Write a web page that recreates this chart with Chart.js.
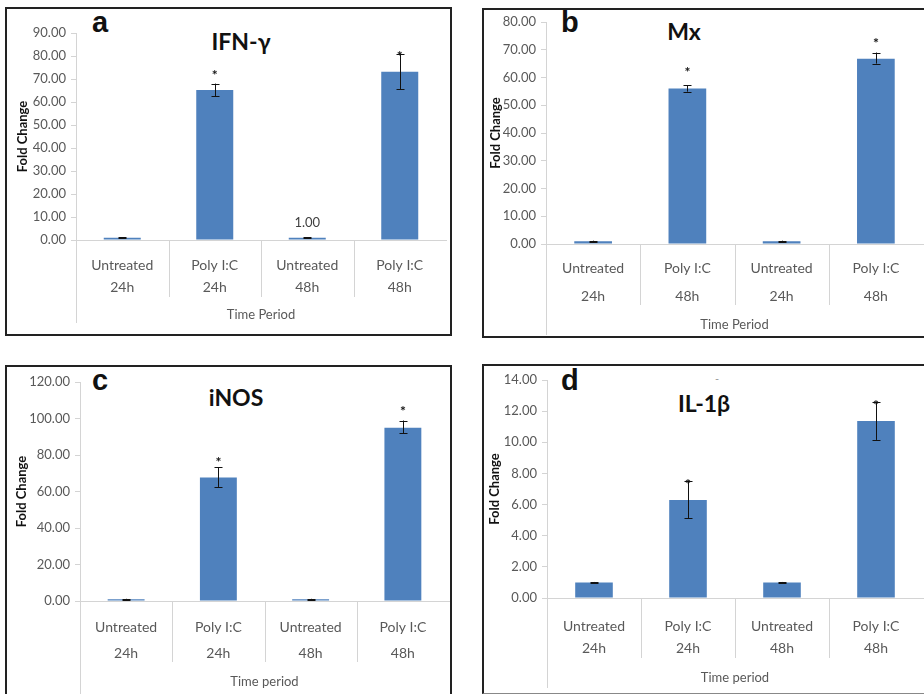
<!DOCTYPE html>
<html lang="en">
  <head>
    <meta charset="utf-8">
    <script src="https://cdn.jsdelivr.net/npm/chart.js"></script>
    <title>Fold change panels</title>
    <style>
      body { margin: 0; background: #fff; width: 924px; height: 694px; position: relative; overflow: hidden; }
      canvas { position: absolute; }
      .frame { position: absolute; box-sizing: border-box; border: 2px solid #222; pointer-events: none; }
      .letter { position: absolute; font: bold 29px "Liberation Sans", Arial, sans-serif; line-height: 1; color: #111; }
      .gene { position: absolute; font: bold 23px Lato, sans-serif; line-height: 1; color: #111; transform: translateX(-50%); white-space: nowrap; }
      .speck { position: absolute; font: 11px Lato, sans-serif; line-height: 1; color: #999; }
    </style>
  </head>
  <body>
    <div class="letter" style="left:92px; top:8px">a</div>
    <div class="gene" style="left:241px; top:30px">IFN-γ</div>
    <div class="letter" style="left:561px; top:8px">b</div>
    <div class="gene" style="left:684px; top:20px">Mx</div>
    <div class="letter" style="left:92px; top:366px">c</div>
    <div class="gene" style="left:236px; top:386px">iNOS</div>
    <div class="letter" style="left:561px; top:366px">d</div>
    <div class="gene" style="left:704px; top:392px">IL-1β</div>
    <div class="speck" style="left:715px; top:373px">-</div>
  </body>
  <script>
    // categories (two-line Excel style labels)
    const labels24_24 = [['Untreated', '24h'], ['Poly I:C', '24h'], ['Untreated', '48h'], ['Poly I:C', '48h']];
    const labelsMx = [['Untreated', '24h'], ['Poly I:C', '48h'], ['Untreated', '24h'], ['Poly I:C', '48h']];

    // a - IFN-gamma
    const ifnValues = [1.0, 65.2, 1.0, 73.2];
    const ifnLow = [0.8, 62.6, 0.8, 65.5];
    const ifnHigh = [1.2, 68.0, 1.2, 81.0];
    const ifnStars = [null, 73.0, null, 81.5];
    const ifnNotes = [null, null, '1.00', null];

    // b - Mx
    const mxValues = [1.0, 56.0, 1.0, 66.8];
    const mxLow = [0.8, 54.9, 0.8, 65.0];
    const mxHigh = [1.2, 57.2, 1.2, 69.0];
    const mxStars = [null, 63.0, null, 73.5];

    // c - iNOS
    const inosValues = [1.0, 67.7, 1.0, 95.0];
    const inosLow = [0.8, 62.5, 0.8, 91.8];
    const inosHigh = [1.2, 73.2, 1.2, 98.9];
    const inosStars = [null, 78.0, null, 105.8];

    // d - IL-1beta
    const il1Values = [1.0, 6.3, 1.0, 11.37];
    const il1Low = [0.97, 5.13, 0.97, 10.15];
    const il1High = [1.03, 7.54, 1.03, 12.6];
    const il1Stars = [null, 7.54, null, 12.6];

    const panels = [
      { left: 5, top: 7, w: 446, h: 328, frame: [447, 329], labels: labels24_24, values: ifnValues, low: ifnLow, high: ifnHigh, stars: ifnStars, notes: ifnNotes,
        max: 90, step: 10, xTitle: 'Time Period', padTop: 26, padRight: 5, yWidth: 71, xHeight: 95,
        yTitlePad: 10, xTickPad: 14, xLine: 22, xTitlePad: 12, axisDrop: 83, dividerDrop: 57 },
      { left: 482, top: 8, w: 442, h: 330, frame: [460, 330], labels: labelsMx, values: mxValues, low: mxLow, high: mxHigh, stars: mxStars, notes: [],
        max: 80, step: 10, xTitle: 'Time Period', padTop: 14, padRight: 1, yWidth: 64, xHeight: 94,
        yTitlePad: 6, xTickPad: 10, xLine: 28, xTitlePad: 5, axisDrop: 91, dividerDrop: 61 },
      { left: 5, top: 365, w: 446, h: 329, frame: [447, 360], labels: labels24_24, values: inosValues, low: inosLow, high: inosHigh, stars: inosStars, notes: [],
        max: 120, step: 20, xTitle: 'Time period', padTop: 17, padRight: 2, yWidth: 75, xHeight: 93,
        yTitlePad: 9, xTickPad: 13, xLine: 26, xTitlePad: 4, axisDrop: 93, dividerDrop: 61 },
      { left: 482, top: 364, w: 442, h: 330, frame: [460, 330], labels: labels24_24, values: il1Values, low: il1Low, high: il1High, stars: il1Stars, notes: [],
        max: 14, step: 2, xTitle: 'Time period', padTop: 16, padRight: 1, yWidth: 65, xHeight: 96,
        yTitlePad: 5, xTickPad: 17, xLine: 22, xTitlePad: 8, axisDrop: 90, dividerDrop: 60, grayBottom: true }
    ];

    Chart.defaults.font.family = 'Lato';

    // draws the Excel-ish extras: dividers under the axis, error bars, stars, value note
    function makeExtras(p) {
      return {
        id: 'extras',
        afterDatasetsDraw(chart) {
          const ctx = chart.ctx;
          const area = chart.chartArea;
          const xs = chart.scales.x, ys = chart.scales.y;
          const bars = chart.getDatasetMeta(0).data;
          ctx.save();
          ctx.strokeStyle = '#d4d4d4';
          ctx.lineWidth = 1;
          ctx.beginPath();
          const ax = Math.round(area.left) + 0.5;
          ctx.moveTo(ax, area.bottom);
          ctx.lineTo(ax, area.bottom + p.axisDrop);
          for (let i = 1; i < p.labels.length; i++) {
            const px = Math.round((xs.getPixelForValue(i - 1) + xs.getPixelForValue(i)) / 2) + 0.5;
            ctx.moveTo(px, area.bottom);
            ctx.lineTo(px, area.bottom + p.dividerDrop);
          }
          ctx.stroke();

          ctx.strokeStyle = '#111';
          ctx.beginPath();
          bars.forEach((bar, i) => {
            const cx = Math.round(bar.x) + 0.5;
            const yl = ys.getPixelForValue(p.low[i]);
            const yh = ys.getPixelForValue(p.high[i]);
            ctx.moveTo(cx, yh); ctx.lineTo(cx, yl);
            ctx.moveTo(cx - 4, Math.round(yh) + 0.5); ctx.lineTo(cx + 4, Math.round(yh) + 0.5);
            ctx.moveTo(cx - 4, Math.round(yl) + 0.5); ctx.lineTo(cx + 4, Math.round(yl) + 0.5);
          });
          ctx.stroke();

          ctx.fillStyle = '#111';
          ctx.textAlign = 'center';
          ctx.textBaseline = 'alphabetic';
          ctx.font = 'bold 14px Lato';
          bars.forEach((bar, i) => {
            if (p.stars[i] == null) return;
            ctx.fillText('*', bar.x, ys.getPixelForValue(p.stars[i]) + 8);
          });

          ctx.fillStyle = '#404040';
          ctx.font = '13px Lato';
          ctx.textBaseline = 'middle';
          bars.forEach((bar, i) => {
            if (!p.notes[i]) return;
            ctx.fillText(p.notes[i], bar.x, bar.y - 15);
          });
          ctx.restore();
        }
      };
    }

    panels.forEach(p => {
      const canvas = document.createElement('canvas');
      canvas.width = p.w;
      canvas.height = p.h;
      canvas.style.left = p.left + 'px';
      canvas.style.top = p.top + 'px';
      document.body.appendChild(canvas);

      const frame = document.createElement('div');
      frame.className = 'frame';
      frame.style.left = p.left + 'px';
      frame.style.top = p.top + 'px';
      frame.style.width = p.frame[0] + 'px';
      frame.style.height = p.frame[1] + 'px';
      if (p.grayBottom) frame.style.borderBottom = '1px solid #888';
      document.body.appendChild(frame);

      new Chart(canvas, {
        type: 'bar',
        data: {
          labels: p.labels,
          datasets: [{
            data: p.values,
            backgroundColor: '#4F81BD',
            borderWidth: 0,
            barPercentage: 0.4,
            categoryPercentage: 1
          }]
        },
        options: {
          responsive: false,
          animation: false,
          devicePixelRatio: 1,
          layout: { padding: { top: p.padTop, right: p.padRight, left: 0, bottom: 0 } },
          plugins: { legend: { display: false }, tooltip: { enabled: false } },
          scales: {
            x: {
              afterFit: s => { s.height = p.xHeight; },
              grid: { drawOnChartArea: false, drawTicks: false, color: '#d4d4d4' },
              border: { color: '#d4d4d4' },
              ticks: { color: '#595959', padding: p.xTickPad, maxRotation: 0, autoSkip: false,
                       font: { size: 14, lineHeight: p.xLine + 'px' } },
              title: { display: true, text: p.xTitle, color: '#595959', font: { size: 13 },
                       padding: { top: 0, bottom: p.xTitlePad } }
            },
            y: {
              min: 0,
              max: p.max,
              afterFit: s => { s.width = p.yWidth; },
              grid: { drawOnChartArea: false, drawTicks: true, tickLength: 5, color: '#d4d4d4' },
              border: { color: '#d4d4d4' },
              ticks: { stepSize: p.step, padding: 5, color: '#595959', font: { size: 13 },
                       callback: v => v.toFixed(2) },
              title: { display: true, text: 'Fold Change', color: '#111', font: { size: 13, weight: 'bold' },
                       padding: { top: p.yTitlePad, bottom: 0 } }
            }
          }
        },
        plugins: [makeExtras(p)]
      });
    });
  </script>
</html>
